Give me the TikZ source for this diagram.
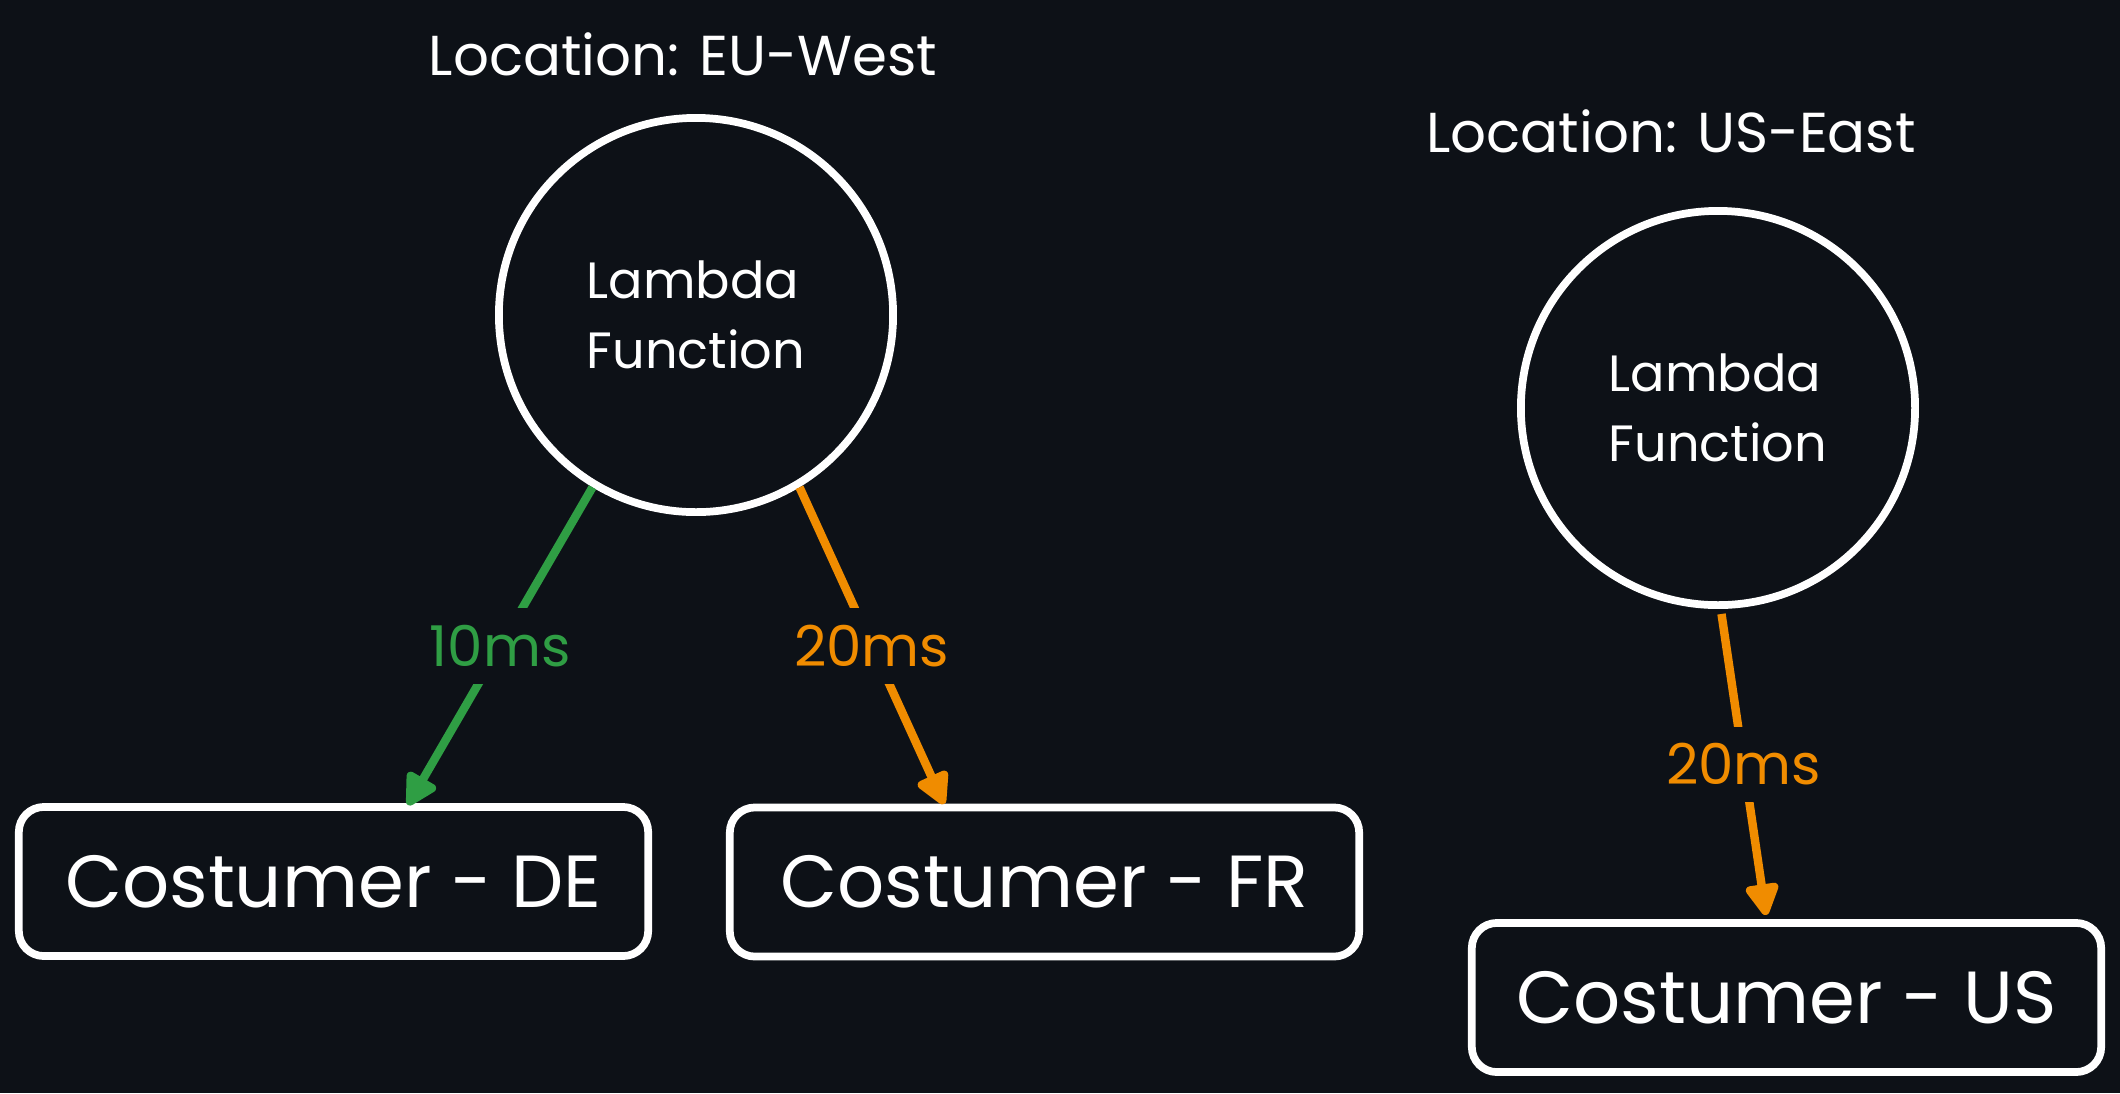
\documentclass[tikz,border=0pt]{standalone}
\usepackage{fontspec}
\setmainfont{Poppins}
\usetikzlibrary{arrows.meta}

\definecolor{bgdark}{HTML}{0D1117}
\definecolor{lgreen}{HTML}{2F9E44}
\definecolor{lorange}{HTML}{F08C00}

\tikzset{
  lambda/.style={circle, draw=white, line width=2.2pt, minimum size=3.94cm, text=white, align=left, font=\fontsize{14.5}{20}\selectfont},
  customer/.style={rectangle, rounded corners=0.25cm, draw=white, line width=2.2pt, minimum width=6.29cm, minimum height=1.49cm, text=white, font=\fontsize{21}{24}\selectfont},
  region/.style={text=white, font=\fontsize{16}{20}\selectfont},
  latency/.style={line width=2.4pt, -{Triangle[length=0.36cm, width=0.36cm, round]}},
  delay/.style={fill=bgdark, inner xsep=2pt, inner ysep=0.17cm, font=\fontsize{16}{20}\selectfont}
}

\begin{document}
\begin{tikzpicture}[x=0.01cm, y=-0.01cm]
    % Background
    \fill[bgdark] (0,0) rectangle (2120,1093);

    % Regions
    \node[region] (euwest) at (683,54) {Location: EU-West};
    \node[region] (useast) at (1671,131) {Location: US-East};

    % Lambda functions
    \node[lambda] (lambdaeu) at (696,315) {Lambda\\Function};
    \node[lambda] (lambdaus) at (1718,408) {Lambda\\Function};

    % Costumers
    \node[customer] (de) at (333.5,881.5) {Costumer - DE};
    \node[customer] (fr) at (1044.5,882) {Costumer - FR};
    \node[customer] (us) at (1786.5,997.5) {Costumer - US};

    % Where the arrows stop
    \coordinate (detip) at (408,805);
    \coordinate (frtip) at (944,804);
    \coordinate (ustip) at (1766,915);

    % Latencies
    \draw[latency, lgreen] (lambdaeu.239) -- (detip) node[midway, delay, text=lgreen] {10ms};
    \draw[latency, lorange] (lambdaeu.301.7) -- (frtip) node[midway, delay, text=lorange] {20ms};
    \draw[latency, lorange] ([yshift=-0.05cm]lambdaus.271) -- (ustip) node[midway, delay, text=lorange] {20ms};
\end{tikzpicture}
\end{document}
